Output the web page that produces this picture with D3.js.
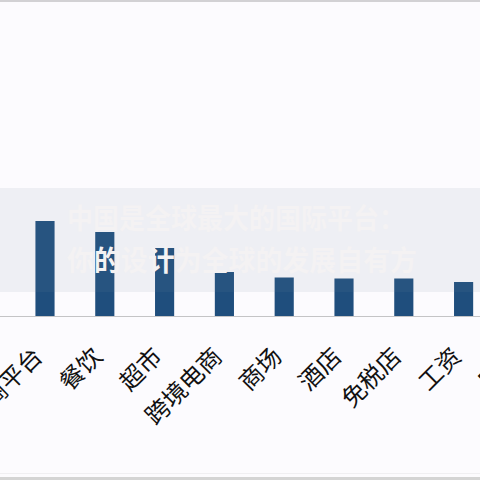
<!DOCTYPE html>
<html>
<head>
<meta charset="utf-8">
<script src="https://cdn.jsdelivr.net/npm/d3@7"></script>
<style>
  html, body { margin: 0; padding: 0; background: #fcfbfe; }
  svg { display: block; }
</style>
</head>
<body>
<div id="chart-container"></div>
<script>
// categories and values (last one sits off-screen)
const categories = ["电商平台", "餐饮", "超市", "跨境电商", "商场", "酒店", "免税店", "工资", "早教"];
const values = [9.5, 8.4, 6.8, 4.4, 3.85, 3.75, 3.75, 3.4, 3.2];
// faint banner text laid over the chart
const bannerLines = ["中国是全球最大的国际平台：", "你的设计为全球的发展自有方"];

const width = 480, height = 480;
const baseY = 316;

const svg = d3.select("#chart-container")
    .append("svg")
    .attr("width", width)
    .attr("height", height);

// screen edges
svg.append("rect").attr("x", 0).attr("y", 0).attr("width", width).attr("height", 2).attr("fill", "#d2d1d4");
svg.append("rect").attr("x", 0).attr("y", 477).attr("width", width).attr("height", 3).attr("fill", "#d4d4d4");
svg.append("rect").attr("x", 0).attr("y", 473).attr("width", width).attr("height", 1).attr("fill", "#f0eff2");

// scales
const x = d3.scaleBand()
    .domain(categories)
    .range([15.1, 553.3])
    .paddingInner(0.68)
    .paddingOuter(0.34);

const y = d3.scaleLinear()
    .domain([0, 30])
    .range([baseY, 16]);

// bars
svg.append("g")
    .selectAll("rect")
    .data(categories)
    .join("rect")
    .attr("x", d => x(d))
    .attr("y", (d, i) => y(values[i]))
    .attr("width", x.bandwidth())
    .attr("height", (d, i) => baseY - y(values[i]))
    .attr("fill", "#1f4e7d");

// baseline
svg.append("line")
    .attr("x1", 0).attr("x2", width)
    .attr("y1", baseY + 0.5).attr("y2", baseY + 0.5)
    .attr("stroke", "#c4c4c6")
    .attr("stroke-width", 1);

// category axis, labels turned 45 degrees
const axis = svg.append("g")
    .attr("transform", `translate(0,${baseY})`)
    .call(d3.axisBottom(x).tickSize(0));

axis.select(".domain").remove();
axis.selectAll("text")
    .attr("x", 0).attr("y", 0).attr("dy", 0)
    .attr("transform", "translate(-1,42) rotate(-45)")
    .style("text-anchor", "end")
    .style("font-family", "'Noto Sans CJK SC', sans-serif")
    .style("font-size", "24px")
    .attr("fill", "#111");

// translucent banner on top
svg.append("rect")
    .attr("x", 0).attr("y", 188)
    .attr("width", width).attr("height", 104)
    .attr("fill", "#76889c")
    .attr("opacity", 0.1);

svg.append("g")
    .selectAll("text")
    .data(bannerLines)
    .join("text")
    .attr("x", 67)
    .attr("y", (d, i) => 229 + i * 42)
    .attr("textLength", (d, i) => i === 0 ? 338 : 350)
    .attr("lengthAdjust", "spacingAndGlyphs")
    .style("font-family", "'Noto Sans CJK SC', sans-serif")
    .style("font-weight", "bold")
    .style("font-size", "28px")
    .attr("fill", "#f4f2f3")
    .text(d => d);
</script>
</body>
</html>
